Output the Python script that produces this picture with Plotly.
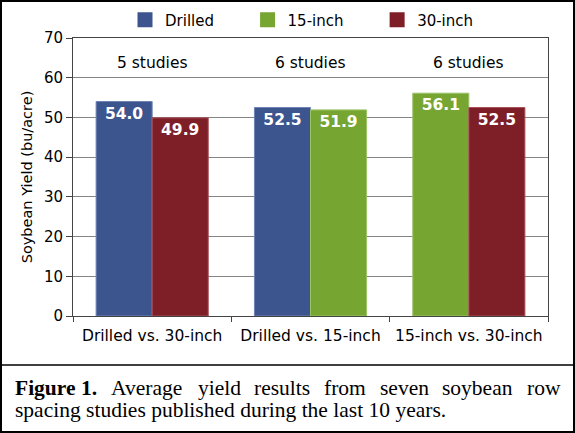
import plotly.graph_objects as go

# ---- data ----
categories = ["Drilled vs. 30-inch", "Drilled vs. 15-inch", "15-inch vs. 30-inch"]
drilled_x = ["Drilled vs. 30-inch", "Drilled vs. 15-inch"]
drilled_y = [54.0, 52.5]
inch15_x = ["Drilled vs. 15-inch", "15-inch vs. 30-inch"]
inch15_y = [51.9, 56.1]
inch30_x = ["Drilled vs. 30-inch", "15-inch vs. 30-inch"]
inch30_y = [49.9, 52.5]
study_labels = ["5 studies", "6 studies", "6 studies"]
y_ticks = [0, 10, 20, 30, 40, 50, 60, 70]
caption_line1 = ["<b>Figure 1.</b>", "Average", "yield", "results", "from",
                 "seven", "soybean", "row"]
caption_line2 = "spacing studies published during the last 10 years."

# ---- layout geometry ----
W, H = 575, 433
ML, MR, MT, MB = 73, 27, 38, 117
PW, PH = W - ML - MR, H - MT - MB


def px2x(px):
    return (px - ML) / PW


def px2y(py):
    return (H - MB - py) / PH


# Times / Liberation Serif advance widths (per 1000 em) for justification
REG = dict(A=722, a=444, b=500, c=444, d=500, e=444, f=333, g=500, h=500,
           i=278, l=278, m=778, n=500, o=500, p=500, r=333, s=389, t=278,
           u=500, v=500, w=722, y=500)
BOLD = {"F": 611, "i": 278, "g": 500, "u": 556, "r": 444, "e": 444,
        " ": 250, "1": 500, ".": 250}


def word_width(word, size):
    if word.startswith("<b>"):
        w = sum(BOLD[c] for c in word[3:-4])
    else:
        w = sum(REG[c] for c in word)
    return w * size / 1000.0


BLUE = "#3C558F"
GREEN = "#77A532"
RED = "#7E1F27"
FONT = "DejaVu Sans"
BW = 0.354
CAP_FONT = "Liberation Serif"
CAP_SIZE = 21.5
PAD = "\u00a0" * 6

fig = go.Figure()

bar_specs = [
    ("Drilled", drilled_x, drilled_y, BLUE, "#6F84B4", [-BW, -BW]),
    ("15-inch", inch15_x, inch15_y, GREEN, "#9CC266", [0, -BW]),
    ("30-inch", inch30_x, inch30_y, RED, "#A85058", [0, 0]),
]
for name, xs, ys, col, edge, offs in bar_specs:
    fig.add_trace(go.Bar(
        x=xs, y=ys, name=name, showlegend=False,
        width=BW, offset=offs,
        marker=dict(color=col, line=dict(color=edge, width=1)),
        text=[f"{v:.1f}" for v in ys], textposition="inside",
        insidetextanchor="end", textangle=0,
        textfont=dict(family=FONT, size=15.5, color="white", weight="bold"),
        cliponaxis=False,
    ))

for name, _, _, col, _, _ in bar_specs:
    fig.add_trace(go.Scatter(
        x=[None], y=[None], mode="markers", name=name + PAD,
        marker=dict(symbol="square", size=15, color=col),
    ))

for cat, lab in zip(categories, study_labels):
    fig.add_annotation(x=cat, y=63.7, text=lab, showarrow=False,
                       font=dict(family=FONT, size=15.5, color="black"),
                       xanchor="center", yanchor="middle")

# caption line 1 (justified between x=13 and x=558)
left, right = 13, 558
widths = [word_width(wd, CAP_SIZE) for wd in caption_line1]
gap = (right - left - sum(widths)) / (len(caption_line1) - 1)
xpos = left
for wd, ww in zip(caption_line1, widths):
    fig.add_annotation(
        xref="paper", yref="paper", x=px2x(xpos), y=px2y(388),
        text=wd, showarrow=False, xanchor="left", yanchor="middle",
        font=dict(family=CAP_FONT, size=CAP_SIZE, color="black"))
    xpos += ww + gap
fig.add_annotation(
    xref="paper", yref="paper", x=px2x(13), y=px2y(410),
    text=caption_line2,
    showarrow=False, xanchor="left", yanchor="middle",
    font=dict(family=CAP_FONT, size=CAP_SIZE, color="black"))

# border and separator
fig.add_shape(type="rect", xref="paper", yref="paper",
              x0=px2x(1), x1=px2x(574), y0=px2y(1), y1=px2y(432),
              line=dict(color="black", width=2), layer="above")
fig.add_shape(type="line", xref="paper", yref="paper",
              x0=px2x(0), x1=px2x(575), y0=px2y(365), y1=px2y(365),
              line=dict(color="black", width=1.5), layer="above")

fig.update_layout(
    width=W, height=H,
    margin=dict(l=ML, r=MR, t=MT, b=MB, pad=0, autoexpand=False),
    paper_bgcolor="white", plot_bgcolor="white",
    barmode="overlay",
    font=dict(family=FONT, size=15, color="black"),
    showlegend=True,
    legend=dict(orientation="h", x=px2x(125), xanchor="left",
                y=px2y(20), yanchor="middle",
                font=dict(family=FONT, size=15),
                bgcolor="rgba(0,0,0,0)", itemsizing="trace"),
    xaxis=dict(type="category", categoryorder="array", categoryarray=categories,
               range=[-0.5, 2.5], showline=True, linecolor="#444", linewidth=1,
               mirror=True, ticks="outside", tickson="boundaries", ticklen=5,
               tickcolor="#444", showgrid=False, ticklabelstandoff=5,
               tickfont=dict(family=FONT, size=15.5)),
    yaxis=dict(range=[0, 70], tickvals=y_ticks, showline=True, linecolor="#444",
               linewidth=1, mirror=True, ticks="outside", ticklen=6, tickcolor="#444",
               showgrid=True, gridcolor="#858585", gridwidth=1, zeroline=False,
               tickfont=dict(family=FONT, size=15),
               title=dict(text="Soybean Yield (bu/acre)", standoff=7,
                          font=dict(family=FONT, size=14.5))),
)

fig.write_html("out.html")
